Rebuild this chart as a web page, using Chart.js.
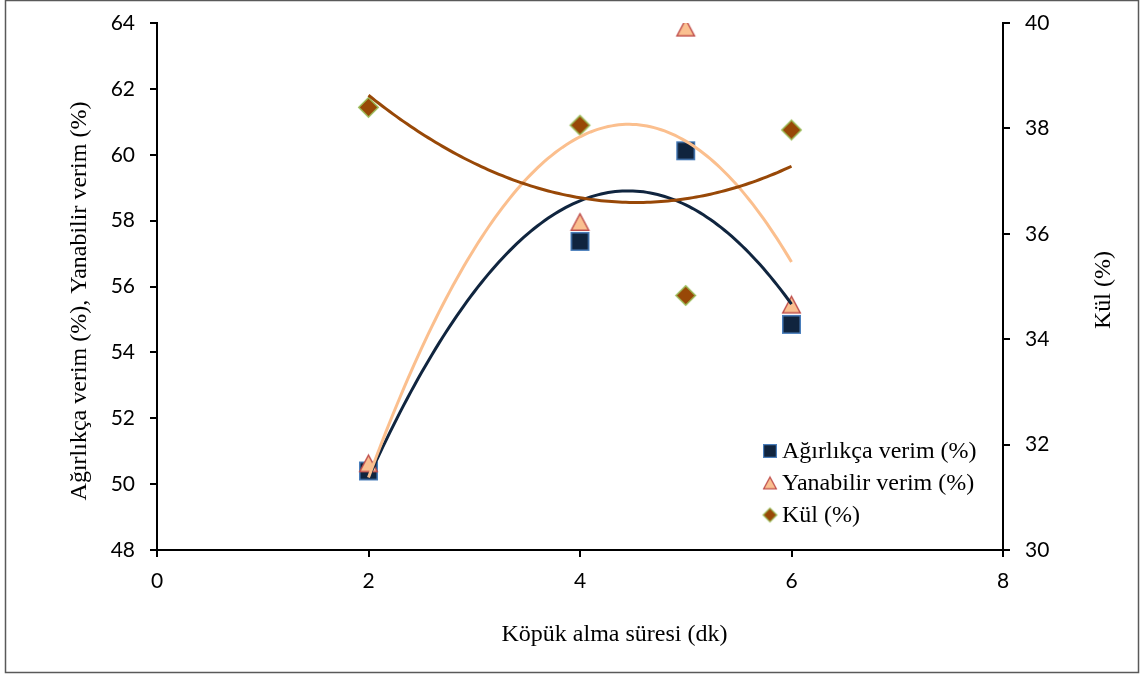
<!DOCTYPE html>
<html lang="tr">
<head>
<meta charset="utf-8">
<title>Köpük alma süresi</title>
<script src="https://cdn.jsdelivr.net/npm/chart.js@4.4.1/dist/chart.umd.min.js"></script>
<style>
  html, body { margin: 0; padding: 0; background: #ffffff; }
  #wrap { width: 1140px; height: 675px; }
</style>
</head>
<body>
<div id="wrap"><canvas id="chart" width="1140" height="675"></canvas></div>
<script>
// Köpük alma süresi (dk)
const sureler = [2, 4, 5, 6];
// Ağırlıkça verim (%) — sol eksen
const agirlikcaVerim = [50.4, 57.37, 60.12, 54.85];
// Yanabilir verim (%) — sol eksen
const yanabilirVerim = [50.63, 57.96, 63.86, 55.45];
// Kül (%) — sağ eksen
const kul = [38.4, 38.06, 34.83, 37.97];

const xTicks = [0, 2, 4, 6, 8];
const leftTicks = [48, 50, 52, 54, 56, 58, 60, 62, 64];
const rightTicks = [30, 32, 34, 36, 38, 40];

const seriesNames = ['Ağırlıkça verim (%)', 'Yanabilir verim (%)', 'Kül (%)'];
const xTitle = 'Köpük alma süresi (dk)';
const leftTitle = 'Ağırlıkça verim (%), Yanabilir verim (%)';
const rightTitle = 'Kül (%)';

const TICK_FONT = { family: 'Lato', size: 21 };
const SERIF = '"Liberation Serif", "Times New Roman", serif';

// 2. dereceden polinom eğilim çizgisi (en küçük kareler)
function quadFit(xs, ys) {
  let s0 = xs.length, s1 = 0, s2 = 0, s3 = 0, s4 = 0, t0 = 0, t1 = 0, t2 = 0;
  xs.forEach((x, i) => {
    const y = ys[i];
    s1 += x; s2 += x * x; s3 += x ** 3; s4 += x ** 4;
    t0 += y; t1 += x * y; t2 += x * x * y;
  });
  const M = [[s0, s1, s2, t0], [s1, s2, s3, t1], [s2, s3, s4, t2]];
  for (let i = 0; i < 3; i++) {
    for (let k = i + 1; k < 3; k++) {
      const f = M[k][i] / M[i][i];
      for (let j = i; j < 4; j++) M[k][j] -= f * M[i][j];
    }
  }
  const c = [0, 0, 0];
  for (let i = 2; i >= 0; i--) {
    let s = M[i][3];
    for (let j = i + 1; j < 3; j++) s -= M[i][j] * c[j];
    c[i] = s / M[i][i];
  }
  return c;
}
function trendPoints(xs, ys) {
  const [a, b, c] = quadFit(xs, ys);
  const lo = Math.min(...xs), hi = Math.max(...xs);
  const pts = [];
  for (let i = 0; i <= 120; i++) {
    const x = lo + (hi - lo) * i / 120;
    pts.push({ x, y: a + b * x + c * x * x });
  }
  return pts;
}

// İşaret şekilleri
function makeMarker(shape, w, h, fill, stroke, lw) {
  const pad = 2;
  const cv = document.createElement('canvas');
  cv.width = w + pad * 2; cv.height = h + pad * 2;
  const g = cv.getContext('2d');
  g.translate(pad, pad);
  g.beginPath();
  const i = lw / 2;
  if (shape === 'square') {
    g.rect(i, i, w - lw, h - lw);
  } else if (shape === 'triangle') {
    g.moveTo(w / 2, i);
    g.lineTo(w - i, h - i);
    g.lineTo(i, h - i);
    g.closePath();
  } else {
    g.moveTo(w / 2, i);
    g.lineTo(w - i, h / 2);
    g.lineTo(w / 2, h - i);
    g.lineTo(i, h / 2);
    g.closePath();
  }
  g.fillStyle = fill; g.fill();
  g.lineWidth = lw; g.strokeStyle = stroke; g.lineJoin = 'miter'; g.stroke();
  return cv;
}
const COLORS = {
  sqFill: '#10243e', sqLine: '#4a7ebb',
  trFill: '#fac090', trLine: '#c0504d',
  dmFill: '#984807', dmLine: '#9bbb59',
  trendNavy: '#10253f', trendOrange: '#fbbf8e', trendBrown: '#984807'
};
const markerSq = makeMarker('square', 19, 19, COLORS.sqFill, COLORS.sqLine, 1.5);
const markerTr = makeMarker('triangle', 19, 18, COLORS.trFill, COLORS.trLine, 1.5);
const markerDm = makeMarker('diamond', 21, 21, COLORS.dmFill, COLORS.dmLine, 1.5);
const legendSq = makeMarker('square', 14, 14, COLORS.sqFill, COLORS.sqLine, 1.2);
const legendTr = makeMarker('triangle', 14, 13, COLORS.trFill, COLORS.trLine, 1.2);
const legendDm = makeMarker('diamond', 15, 15, COLORS.dmFill, COLORS.dmLine, 1.2);

const toXY = (ys) => sureler.map((x, i) => ({ x, y: ys[i] }));

// Arka plan, çerçeve, eksen başlıkları ve gösterge
const decorations = {
  id: 'decorations',
  beforeDraw(chart) {
    const ctx = chart.ctx;
    ctx.save();
    ctx.fillStyle = '#ffffff';
    ctx.fillRect(0, 0, chart.width, chart.height);
    ctx.strokeStyle = '#595959';
    ctx.lineWidth = 1.5;
    ctx.strokeRect(5.5, 0.5, 1133, 672);
    ctx.restore();
  },
  afterDraw(chart) {
    const ctx = chart.ctx;
    const area = chart.chartArea;
    ctx.save();
    ctx.fillStyle = '#000000';
    ctx.font = '24px ' + SERIF;
    ctx.textBaseline = 'alphabetic';

    ctx.textAlign = 'center';
    ctx.fillText(xTitle, area.left + 457.5, area.bottom + 91);

    ctx.save();
    ctx.translate(85.5, 301);
    ctx.rotate(-Math.PI / 2);
    ctx.fillText(leftTitle, 0, 0);
    ctx.restore();

    ctx.save();
    ctx.translate(1110, 290);
    ctx.rotate(-Math.PI / 2);
    ctx.fillText(rightTitle, 0, 0);
    ctx.restore();

    // gösterge
    const lx = 770, tx = 782;
    const rows = [
      [legendSq, seriesNames[0], 451],
      [legendTr, seriesNames[1], 483],
      [legendDm, seriesNames[2], 515]
    ];
    ctx.textAlign = 'left';
    rows.forEach(([m, label, cy]) => {
      ctx.drawImage(m, lx - m.width / 2, cy - m.height / 2);
      ctx.fillText(label, tx, cy + 7);
    });
    ctx.restore();
  }
};

const axisCommon = {
  border: { display: true, color: '#000000', width: 2 },
  grid: { display: true, drawOnChartArea: false, drawTicks: true, tickLength: 7, color: '#000000', lineWidth: 2 },
  ticks: { color: '#000000', font: TICK_FONT }
};

// sabit eksen genişlikleri; etiket taşma boşlukları çizim alanını kaydırmasın
function fixedSize(prop, size) {
  return (s) => {
    s[prop] = size;
    s.paddingTop = 0; s.paddingBottom = 0;
    s.paddingLeft = 0; s.paddingRight = 0;
  };
}

new Chart(document.getElementById('chart'), {
  type: 'scatter',
  data: {
    datasets: [
      { label: seriesNames[0], data: toXY(agirlikcaVerim), yAxisID: 'y', pointStyle: markerSq, pointRadius: 10, pointHoverRadius: 10, order: 6 },
      { label: seriesNames[1], data: toXY(yanabilirVerim), yAxisID: 'y', pointStyle: markerTr, pointRadius: 10, pointHoverRadius: 10, order: 5 },
      { label: seriesNames[2], data: toXY(kul), yAxisID: 'y1', pointStyle: markerDm, pointRadius: 10, pointHoverRadius: 10, order: 4 },
      { label: 'trend-a', data: trendPoints(sureler, agirlikcaVerim), yAxisID: 'y', showLine: true, pointRadius: 0, borderColor: COLORS.trendNavy, borderWidth: 3, tension: 0, order: 3 },
      { label: 'trend-y', data: trendPoints(sureler, yanabilirVerim), yAxisID: 'y', showLine: true, pointRadius: 0, borderColor: COLORS.trendOrange, borderWidth: 3, tension: 0, order: 2 },
      { label: 'trend-k', data: trendPoints(sureler, kul), yAxisID: 'y1', showLine: true, pointRadius: 0, borderColor: COLORS.trendBrown, borderWidth: 3, tension: 0, order: 1 }
    ]
  },
  options: {
    responsive: false,
    animation: false,
    devicePixelRatio: 1,
    layout: { padding: { left: 0, right: 0, top: 23, bottom: 0 } },
    plugins: { legend: { display: false }, tooltip: { enabled: false }, title: { display: false } },
    scales: {
      x: {
        ...axisCommon,
        type: 'linear', position: 'bottom', min: 0, max: 8,
        afterBuildTicks: (s) => { s.ticks = xTicks.map(v => ({ value: v })); },
        ticks: { ...axisCommon.ticks, padding: 12, maxRotation: 0 },
        afterFit: fixedSize('height', 125)
      },
      y: {
        ...axisCommon,
        type: 'linear', position: 'left', min: 48, max: 64,
        afterBuildTicks: (s) => { s.ticks = leftTicks.map(v => ({ value: v })); },
        ticks: { ...axisCommon.ticks, padding: 15 },
        afterFit: fixedSize('width', 157)
      },
      y1: {
        ...axisCommon,
        type: 'linear', position: 'right', min: 30, max: 40,
        afterBuildTicks: (s) => { s.ticks = rightTicks.map(v => ({ value: v })); },
        ticks: { ...axisCommon.ticks, padding: 15 },
        afterFit: fixedSize('width', 137)
      }
    }
  },
  plugins: [decorations]
});
</script>
</body>
</html>
